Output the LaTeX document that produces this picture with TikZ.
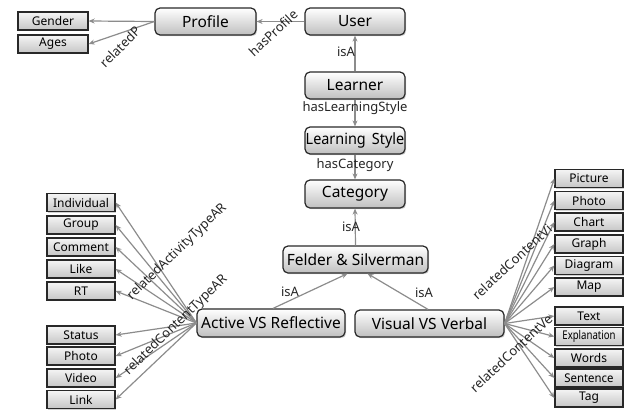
\documentclass[tikz,border=0pt]{standalone}
\usepackage{fontspec}
\setmainfont{Noto Sans}
\usetikzlibrary{arrows.meta,shadows}
\definecolor{edgegray}{RGB}{140,140,140}
\definecolor{boxline}{RGB}{40,40,40}
\tikzset{
  bigbox/.style={draw=boxline, line width=1.2pt, rounded corners=5pt,
    top color=white, bottom color=gray!50, inner sep=0pt,
    font=\fontsize{15.5}{16}\selectfont,
    drop shadow={opacity=0.35, shadow xshift=1.2pt, shadow yshift=-1.2pt}},
  smallbox/.style={draw=boxline, line width=1.3pt,
    top color=gray!8, bottom color=gray!45, inner sep=0pt,
    minimum width=68pt, minimum height=18pt,
    font=\fontsize{12}{13}\selectfont,
    drop shadow={opacity=0.35, shadow xshift=1pt, shadow yshift=-1pt}},
  rel/.style={draw=edgegray, line width=1.2pt, -{Stealth[length=6pt,width=5pt]}},
  lbl/.style={font=\fontsize{13}{14}\selectfont, inner sep=0pt, text=black!85}
}
\begin{document}
\begin{tikzpicture}[x=1pt,y=-1pt]
\useasboundingbox (0,0) rectangle (631,410);
% main nodes
\node[bigbox, minimum width=101pt, minimum height=27pt] (profile) at (205.5,21.5) {Profile};
\node[bigbox, minimum width=100pt, minimum height=27pt] (user) at (355,21.5) {User};
\node[bigbox, minimum width=100pt, minimum height=27pt] (learner) at (355,85.5) {Learner};
\node[bigbox, minimum width=100pt, minimum height=27pt] (lstyle) at (355,140.5) {\scalebox{0.93}[1]{Learning\ \,Style}};
\node[bigbox, minimum width=100pt, minimum height=28pt] (category) at (355,194) {Category};
\node[bigbox, minimum width=145pt, minimum height=27pt] (felder) at (355.5,259.5) {Felder \& Silverman};
\node[bigbox, minimum width=148pt, minimum height=28pt] (active) at (271,323) {Active VS Reflective};
\node[bigbox, minimum width=149pt, minimum height=27pt] (visual) at (429.5,323.5) {Visual VS Verbal};
% profile boxes
\node[smallbox, minimum width=70pt] (gender) at (53,21) {Gender};
\node[smallbox, minimum width=70pt] (ages) at (53,44) {Ages};
% left boxes
\node[smallbox] (individual) at (81,202.5) {Individual};
\node[smallbox] (group) at (81,225) {Group};
\node[smallbox] (comment) at (81,247) {Comment};
\node[smallbox] (like) at (81,269) {Like};
\node[smallbox] (rt) at (81,291) {RT};
\node[smallbox] (status) at (81,335) {Status};
\node[smallbox] (photoL) at (81,356) {Photo};
\node[smallbox] (video) at (81,378) {Video};
\node[smallbox] (link) at (81,399.5) {Link};
% right boxes
\node[smallbox] (picture) at (589,178.5) {Picture};
\node[smallbox] (photoR) at (589,200.5) {Photo};
\node[smallbox] (chart) at (589,222) {Chart};
\node[smallbox] (graph) at (589,244) {Graph};
\node[smallbox] (diagram) at (589,265.5) {Diagram};
\node[smallbox] (map) at (589,287) {Map};
\node[smallbox] (text) at (589,316) {Text};
\node[smallbox] (explanation) at (589,336.5) {\scalebox{0.8}[1]{Explanation}};
\node[smallbox] (words) at (589,358) {Words};
\node[smallbox] (sentence) at (589,378) {\scalebox{0.95}[1]{Sentence}};
\node[smallbox] (tag) at (589,398) {Tag};
% edges
\draw[rel] (profile.west) -- (gender.east);
\draw[rel] (profile.west) -- (ages.east);
\draw[rel] (user.west) -- (profile.east);
\draw[rel] (learner.north) -- (user.south);
\draw[rel] (learner.south) -- (lstyle.north);
\draw[rel] (lstyle.south) -- (category.north);
\draw[rel] (felder.north) -- (category.south);
\draw[rel] ([xshift=2pt]active.north) -- ([xshift=-8pt]felder.south);
\draw[rel] ([xshift=-1.5pt]visual.north) -- ([xshift=12pt]felder.south);
\foreach \t in {individual,group,comment,like,rt,status,photoL,video,link}
  \draw[rel] (active.west) -- (\t.east);
\foreach \t in {picture,photoR,chart,graph,diagram,map,text,explanation,words,sentence,tag}
  \draw[rel] (visual.east) -- (\t.west);
% labels
\node[lbl, rotate=45] (lrelP) at (120,47) {relatedP};
\node[lbl, rotate=43] (lhasP) at (273,33) {hasProfile};
\node[lbl] (lisA1) at (346,52) {isA};
\node[lbl] (lhasLS) at (355,108) {hasLearningStyle};
\node[lbl] (lhasC) at (355,165) {hasCategory};
\node[lbl] (lisA2) at (351,227) {isA};
\node[lbl] (lisA3) at (290,292) {isA};
\node[lbl] (lisA4) at (424,293) {isA};
\node[lbl, rotate=44] (lAT) at (177,252) {relatedActivityTypeAR};
\node[lbl, rotate=44] (lCT) at (176,325) {relatedContentTypeAR};
\node[lbl, rotate=43] (lVi) at (512,262) {relatedContentVi};
\node[lbl, rotate=43] (lVe) at (511,353) {relatedContentVe};
\end{tikzpicture}
\end{document}
